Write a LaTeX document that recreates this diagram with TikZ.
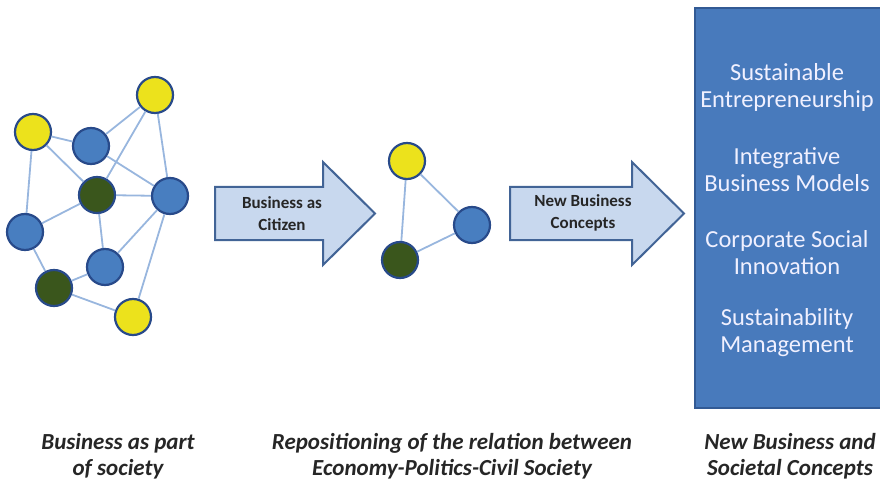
\documentclass[tikz,border=0pt]{standalone}
\usepackage{fontspec}
\setmainfont{Carlito}
\usepackage{xcolor}
\usepackage{tikz}
\usetikzlibrary{positioning}
\definecolor{dotyellow}{RGB}{236,226,28}
\definecolor{dotblue}{RGB}{72,126,192}
\definecolor{dotgreen}{RGB}{58,86,28}
\definecolor{ringblue}{RGB}{40,74,138}
\definecolor{linkblue}{RGB}{152,182,222}
\definecolor{arrowfill}{RGB}{200,216,238}
\definecolor{arrowedge}{RGB}{66,100,150}
\definecolor{boxfill}{RGB}{72,122,188}
\definecolor{boxedge}{RGB}{50,90,148}

\begin{document}
\begin{tikzpicture}[x=1pt,y=-1pt,
  dot/.style={circle,draw=ringblue,line width=2.2pt,minimum size=36pt,inner sep=0pt},
  ylw/.style={dot,fill=dotyellow},
  blu/.style={dot,fill=dotblue},
  grn/.style={dot,fill=dotgreen},
  link/.style={draw=linkblue,line width=1.8pt},
  bigarrow/.style={draw=arrowedge,fill=arrowfill,line width=2pt,line join=miter},
  arrowtext/.style={font=\fontsize{17}{22}\selectfont\bfseries,align=center,text=black!85},
  boxtext/.style={font=\fontsize{24.5}{27}\selectfont,align=center,text=white!94!blue},
  caption/.style={font=\fontsize{23}{26}\selectfont\bfseries\itshape,align=center,text=black!85}]
\useasboundingbox (0,0) rectangle (880,481);
% society network
\node[ylw] (y1) at (155,95) {};
\node[ylw] (y2) at (33,132) {};
\node[blu] (b1) at (91,146) {};
\node[grn] (g1) at (97,195) {};
\node[blu] (b2) at (170,196) {};
\node[blu] (b3) at (25,232) {};
\node[blu] (b4) at (105,267) {};
\node[grn] (g2) at (54,288) {};
\node[ylw] (y3) at (133,317) {};
\draw[link]
(y2) -- (b1) (y2) -- (g1) (y2) -- (b3)
(b1) -- (y1) (b1) -- (b2)
(y1) -- (g1) (y1) -- (b2)
(g1) -- (b2) (g1) -- (b3) (g1) -- (b4)
(b2) -- (b4) (b2) -- (y3)
(b3) -- (g2) (g2) -- (b4) (g2) -- (y3);
% repositioned triangle
\node[ylw] (ty) at (407,161) {};
\node[blu] (tb) at (472,225) {};
\node[grn] (tg) at (400,260) {};
\draw[link] (ty) -- (tg) (ty) -- (tb) (tg) -- (tb);
% block arrows
\draw[bigarrow] (215,187) -- (323,187) -- (323,162) -- (375,213.5)
  -- (323,265) -- (323,240) -- (215,240) -- cycle;
\node[arrowtext] (c1) at (282,214) {Business as\\Citizen};
\draw[bigarrow] (510,187) -- (632,187) -- (632,162) -- (684,213.5)
  -- (632,265) -- (632,240) -- (510,240) -- cycle;
\node[arrowtext] (c2) at (583,213) {New Business\\Concepts};
% concepts box
\draw[draw=boxedge,fill=boxfill,line width=1.5pt] (695,8) rectangle (886,408);
\node[boxtext] (s1) at (787,87.5) {Sustainable\\Entrepreneurship};
\node[boxtext] (s2) at (787,170) {Integrative\\Business Models};
\node[boxtext] (s3) at (787,252.5) {Corporate Social\\Innovation};
\node[boxtext] (s4) at (787,332.5) {Sustainability\\Management};
% captions
\node[caption] (l1) at (118,456) {Business as part\\of society};
\node[caption] (l2) at (452,456) {Repositioning of the relation between\\Economy-Politics-Civil Society};
\node[caption] (l3) at (790,456) {New Business and\\Societal Concepts};
\end{tikzpicture}
\end{document}
